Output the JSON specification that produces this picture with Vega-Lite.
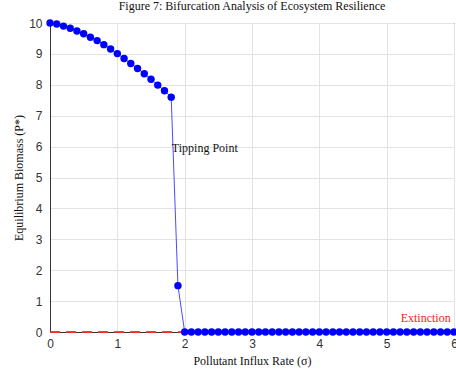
{
  "$schema": "https://vega.github.io/schema/vega-lite/v6.json",
  "width": 404,
  "height": 309,
  "autosize": {"type": "none"},
  "padding": {"left": 50, "top": 23, "right": 2, "bottom": 40},
  "background": "white",
  "view": {"stroke": "#333", "strokeWidth": 1},
  "title": {
    "text": "Figure 7: Bifurcation Analysis of Ecosystem Resilience",
    "font": "Liberation Serif",
    "fontSize": 12,
    "fontWeight": "normal",
    "color": "#111",
    "anchor": "middle",
    "offset": 4
  },
  "datasets": {
    "branch": [
      {"sigma": 0.0, "P": 10.0}, {"sigma": 0.1, "P": 9.97}, {"sigma": 0.2, "P": 9.9},
      {"sigma": 0.3, "P": 9.83}, {"sigma": 0.4, "P": 9.74}, {"sigma": 0.5, "P": 9.65},
      {"sigma": 0.6, "P": 9.54}, {"sigma": 0.7, "P": 9.43}, {"sigma": 0.8, "P": 9.3},
      {"sigma": 0.9, "P": 9.16}, {"sigma": 1.0, "P": 9.01}, {"sigma": 1.1, "P": 8.85},
      {"sigma": 1.2, "P": 8.69}, {"sigma": 1.3, "P": 8.53}, {"sigma": 1.4, "P": 8.36},
      {"sigma": 1.5, "P": 8.18}, {"sigma": 1.6, "P": 7.99}, {"sigma": 1.7, "P": 7.81},
      {"sigma": 1.8, "P": 7.6}, {"sigma": 1.9, "P": 1.5}, {"sigma": 2.0, "P": 0},
      {"sigma": 2.1, "P": 0}, {"sigma": 2.2, "P": 0}, {"sigma": 2.3, "P": 0},
      {"sigma": 2.4, "P": 0}, {"sigma": 2.5, "P": 0}, {"sigma": 2.6, "P": 0},
      {"sigma": 2.7, "P": 0}, {"sigma": 2.8, "P": 0}, {"sigma": 2.9, "P": 0},
      {"sigma": 3.0, "P": 0}, {"sigma": 3.1, "P": 0}, {"sigma": 3.2, "P": 0},
      {"sigma": 3.3, "P": 0}, {"sigma": 3.4, "P": 0}, {"sigma": 3.5, "P": 0},
      {"sigma": 3.6, "P": 0}, {"sigma": 3.7, "P": 0}, {"sigma": 3.8, "P": 0},
      {"sigma": 3.9, "P": 0}, {"sigma": 4.0, "P": 0}, {"sigma": 4.1, "P": 0},
      {"sigma": 4.2, "P": 0}, {"sigma": 4.3, "P": 0}, {"sigma": 4.4, "P": 0},
      {"sigma": 4.5, "P": 0}, {"sigma": 4.6, "P": 0}, {"sigma": 4.7, "P": 0},
      {"sigma": 4.8, "P": 0}, {"sigma": 4.9, "P": 0}, {"sigma": 5.0, "P": 0},
      {"sigma": 5.1, "P": 0}, {"sigma": 5.2, "P": 0}, {"sigma": 5.3, "P": 0},
      {"sigma": 5.4, "P": 0}, {"sigma": 5.5, "P": 0}, {"sigma": 5.6, "P": 0},
      {"sigma": 5.7, "P": 0}, {"sigma": 5.8, "P": 0}, {"sigma": 5.9, "P": 0},
      {"sigma": 6.0, "P": 0}
    ],
    "extinct": [{"sigma": 0, "P": 0}, {"sigma": 6, "P": 0}],
    "tip": [{"sigma": 1.81, "P": 5.95, "label": "Tipping Point"}],
    "ext": [{"sigma": 5.95, "P": 0.45, "label": "Extinction"}]
  },
  "encoding": {
    "x": {
      "field": "sigma", "type": "quantitative",
      "scale": {"domain": [0, 6], "nice": false, "zero": false},
      "axis": {
        "title": "Pollutant Influx Rate (σ)",
        "values": [0, 1, 2, 3, 4, 5, 6],
        "titleFont": "Liberation Serif", "titleFontSize": 12, "titleFontWeight": "normal",
        "titleColor": "#111", "titlePadding": 6,
        "labelFont": "Liberation Sans", "labelFontSize": 12, "labelColor": "#333",
        "labelPadding": 6, "tickSize": 0, "domainColor": "#333",
        "gridColor": "#e3e3e3", "labelFlush": false
      }
    },
    "y": {
      "field": "P", "type": "quantitative",
      "scale": {"domain": [0, 10], "nice": false},
      "axis": {
        "title": "Equilibrium Biomass (P*)",
        "values": [0, 1, 2, 3, 4, 5, 6, 7, 8, 9, 10],
        "titleFont": "Liberation Serif", "titleFontSize": 12, "titleFontWeight": "normal",
        "titleColor": "#111", "titlePadding": 3,
        "labelFont": "Liberation Sans", "labelFontSize": 12, "labelColor": "#333",
        "labelPadding": 8, "tickSize": 0, "domainColor": "#333",
        "gridColor": "#e3e3e3", "labelFlush": false
      }
    }
  },
  "layer": [
    {
      "data": {"name": "branch"},
      "mark": {"type": "line", "color": "#4a4aff", "strokeWidth": 1}
    },
    {
      "data": {"name": "extinct"},
      "mark": {"type": "line", "color": "#ff2a2a", "strokeWidth": 2, "strokeDash": [10, 6], "opacity": 0.9}
    },
    {
      "data": {"name": "branch"},
      "mark": {"type": "point", "filled": true, "color": "#0000ff", "size": 55, "opacity": 1}
    },
    {
      "data": {"name": "tip"},
      "mark": {"type": "text", "font": "Liberation Serif", "fontSize": 12, "align": "left", "color": "#111"},
      "encoding": {"text": {"field": "label"}}
    },
    {
      "data": {"name": "ext"},
      "mark": {"type": "text", "font": "Liberation Serif", "fontSize": 12, "align": "right", "color": "#ff2020"},
      "encoding": {"text": {"field": "label"}}
    }
  ]
}
